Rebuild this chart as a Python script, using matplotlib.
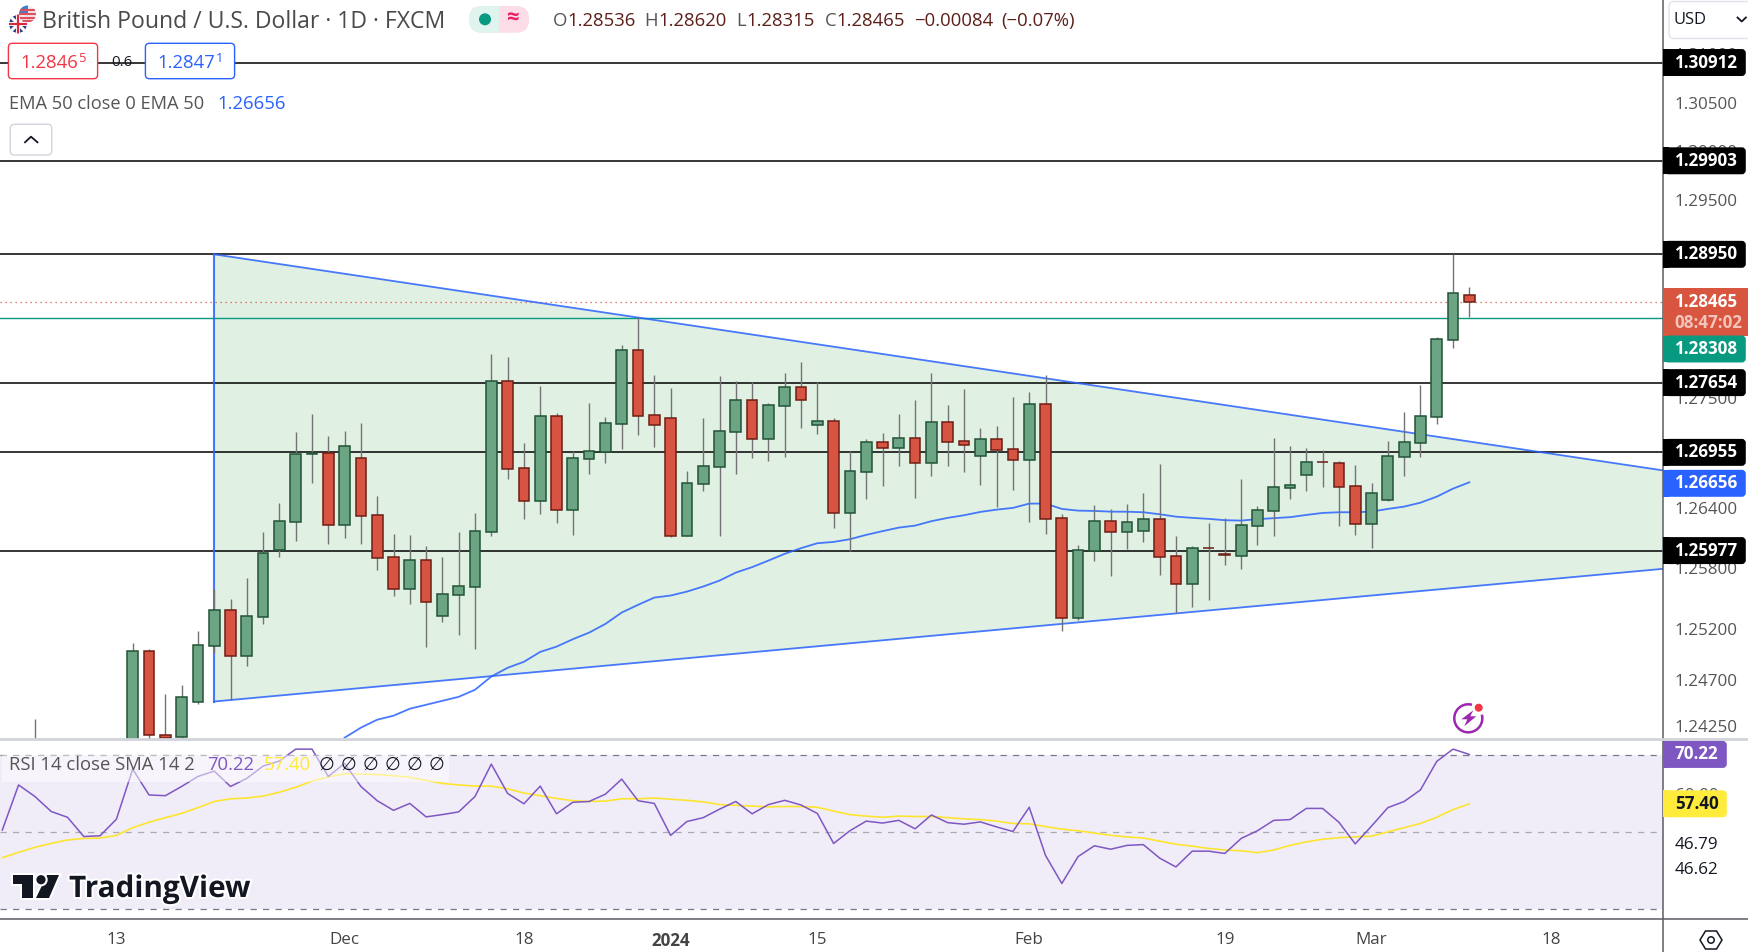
#!/usr/bin/env python3
"""GBP/USD daily chart with EMA, triangle drawing and RSI pane."""

import numpy as np
import matplotlib
matplotlib.use('Agg')
import matplotlib.pyplot as plt
import matplotlib.patheffects as pe
from matplotlib.patches import Rectangle, FancyBboxPatch, Circle, Polygon, Arc

plt.rcParams['font.family'] = ['Open Sans', 'DejaVu Sans']

nan = float('nan')

opens = [1.23900, nan, nan, nan, nan, nan, 1.23850, 1.24983, 1.24157, 1.24142, 1.24480, 1.25039, 1.25388, 1.24940, 1.25325,
         1.25984, 1.26265, 1.26939, 1.26946, 1.26236, 1.26896, 1.26328, 1.25912, 1.25601, 1.25882, 1.25334, 1.25542, 1.25621,
         1.26166, 1.27668, 1.26796, 1.26474, 1.27317, 1.26384, 1.26892, 1.26962, 1.27243, 1.27980, 1.27327, 1.27297, 1.26126,
         1.26642, 1.26812, 1.27162, 1.27477, 1.27092, 1.27423, 1.27607, 1.27233, 1.27267, 1.26354, 1.26762, 1.27056, 1.27002,
         1.27096, 1.26852, 1.27256, 1.27066, 1.26922, 1.27086, 1.26986, 1.26882, 1.27437, 1.26299, 1.25314, 1.25977, 1.26269,
         1.26166, 1.26176, 1.26289, 1.25922, 1.25651, 1.26001, 1.25941, 1.25928, 1.26225, 1.26374, 1.26603, 1.26732, 1.26856,
         1.26846, 1.26617, 1.26245, 1.26483, 1.26912, 1.27052, 1.27313, 1.28087, 1.28536]
highs = [1.24320, nan, nan, nan, nan, nan, 1.25062, 1.25006, 1.24565, 1.24653, 1.25183, 1.25595, 1.25499, 1.25707, 1.26163,
         1.26451, 1.27159, 1.27340, 1.27119, 1.27169, 1.27250, 1.26520, 1.26143, 1.26133, 1.26024, 1.25915, 1.26163, 1.26351,
         1.27943, 1.27913, 1.27049, 1.27621, 1.27350, 1.26966, 1.27450, 1.27310, 1.28033, 1.28316, 1.27731, 1.27600, 1.26769,
         1.27300, 1.27721, 1.27671, 1.27661, 1.27450, 1.27751, 1.27862, 1.27661, 1.27300, 1.26969, 1.27089, 1.27149, 1.27340,
         1.27480, 1.27751, 1.27430, 1.27590, 1.27200, 1.27220, 1.27510, 1.27560, 1.27731, 1.26341, 1.26034, 1.26431, 1.26391,
         1.26441, 1.26550, 1.26839, 1.26123, 1.26024, 1.26252, 1.26302, 1.26690, 1.26421, 1.27099, 1.27019, 1.26999, 1.26979,
         1.26869, 1.26829, 1.26650, 1.27069, 1.27360, 1.27631, 1.28114, 1.28950, 1.28620]
lows = [1.23850, nan, nan, nan, nan, nan, 1.23800, 1.24050, 1.23950, 1.24050, 1.24467, 1.24970, 1.24499, 1.24839, 1.25252,
        1.25915, 1.26073, 1.26649, 1.26043, 1.26103, 1.26043, 1.25786, 1.25529, 1.25450, 1.25026, 1.25272, 1.25144, 1.25006,
        1.26123, 1.26689, 1.26292, 1.26341, 1.26252, 1.26133, 1.26739, 1.26849, 1.26989, 1.27129, 1.27009, 1.26113, 1.26126,
        1.26570, 1.26126, 1.26739, 1.26899, 1.26869, 1.26909, 1.27200, 1.27139, 1.26202, 1.25977, 1.26490, 1.26620, 1.26819,
        1.26500, 1.26719, 1.26819, 1.26759, 1.26630, 1.26411, 1.26580, 1.26262, 1.26143, 1.25183, 1.25292, 1.25875, 1.25727,
        1.25994, 1.26063, 1.25737, 1.25357, 1.25420, 1.25489, 1.25836, 1.25796, 1.26034, 1.26123, 1.26490, 1.26570, 1.26610,
        1.26222, 1.26133, 1.26004, 1.26470, 1.26719, 1.26909, 1.27240, 1.28003, 1.28315]
closes = [1.23950, nan, nan, nan, nan, nan, 1.24983, 1.24157, 1.24135, 1.24532, 1.25042, 1.25388, 1.24940, 1.25329, 1.25951,
          1.26269, 1.26936, 1.26952, 1.26236, 1.27016, 1.26324, 1.25908, 1.25601, 1.25882, 1.25472, 1.25545, 1.25625, 1.26170,
          1.27668, 1.26792, 1.26474, 1.27317, 1.26384, 1.26896, 1.26966, 1.27247, 1.27980, 1.27323, 1.27233, 1.26126, 1.26646,
          1.26816, 1.27166, 1.27477, 1.27092, 1.27427, 1.27607, 1.27483, 1.27267, 1.26354, 1.26766, 1.27056, 1.27002, 1.27096,
          1.26852, 1.27256, 1.27062, 1.27032, 1.27086, 1.26982, 1.26882, 1.27437, 1.26295, 1.25314, 1.25981, 1.26269, 1.26166,
          1.26259, 1.26289, 1.25918, 1.25651, 1.26001, 1.25998, 1.25932, 1.26229, 1.26378, 1.26607, 1.26627, 1.26856, 1.26854,
          1.26613, 1.26245, 1.26547, 1.26916, 1.27056, 1.27317, 1.28090, 1.28555, 1.28465]

ema_start = 19
ema50 = [1.24135, 1.24233, 1.24311, 1.24350, 1.24418, 1.24457, 1.24496, 1.24535, 1.24604, 1.24734, 1.24820, 1.24879, 1.24976,
         1.25028, 1.25101, 1.25166, 1.25252, 1.25364, 1.25440, 1.25512, 1.25532, 1.25571, 1.25621, 1.25680, 1.25759, 1.25813,
         1.25878, 1.25945, 1.26001, 1.26050, 1.26063, 1.26090, 1.26133, 1.26170, 1.26205, 1.26225, 1.26269, 1.26302, 1.26328,
         1.26361, 1.26384, 1.26401, 1.26444, 1.26444, 1.26391, 1.26374, 1.26371, 1.26364, 1.26363, 1.26358, 1.26338, 1.26314,
         1.26302, 1.26292, 1.26279, 1.26275, 1.26289, 1.26299, 1.26309, 1.26331, 1.26351, 1.26358, 1.26358, 1.26364, 1.26391,
         1.26414, 1.26453, 1.26513, 1.26593, 1.26656]

rsi_start = -2
rsi = [50.6, 62.3, 59.3, 55.4, 53.9, 48.9, 49.1, 53.4, 66.4, 59.7, 59.5, 61.9, 64.5, 65.9, 61.9, 64.0, 67.2, 68.5, 71.6, 71.6,
       64.5, 67.9, 61.9, 58.2, 55.7, 57.5, 54.0, 54.6, 55.3, 59.3, 67.7, 60.1, 57.4, 62.0, 54.8, 57.8, 58.0, 59.9, 63.8, 58.2,
       57.5, 49.2, 52.8, 53.8, 56.0, 58.0, 54.8, 57.2, 58.3, 57.1, 54.9, 47.1, 50.4, 52.9, 52.4, 53.1, 50.9, 54.5, 52.5, 52.1,
       52.7, 51.4, 50.2, 56.5, 44.0, 36.7, 43.7, 46.5, 45.6, 46.6, 46.8, 43.3, 41.0, 45.1, 45.1, 44.5, 48.4, 50.4, 53.1, 53.3,
       56.2, 56.2, 52.6, 47.0, 51.6, 56.4, 58.0, 61.0, 68.4, 71.6, 70.22]
rsi_sma = [43.4, 44.8, 46.1, 47.1, 48.0, 48.4, 48.5, 49.2, 51.2, 52.6, 53.8, 54.9, 56.4, 58.0, 58.7, 58.9, 59.4, 60.4, 61.7, 63.3,
           64.4, 65.2, 65.1, 65.0, 64.7, 64.3, 63.5, 62.7, 62.3, 62.0, 62.0, 61.3, 60.2, 59.5, 58.8, 58.2, 58.0, 58.1, 58.7, 58.7,
           58.9, 58.6, 58.3, 57.9, 57.2, 57.0, 56.8, 56.6, 56.7, 56.7, 56.5, 55.5, 54.6, 54.2, 53.9, 54.2, 54.1, 54.1, 53.8, 53.5,
           53.3, 52.9, 52.3, 52.2, 51.5, 50.8, 50.4, 49.8, 49.2, 48.8, 48.5, 47.7, 46.9, 46.4, 45.8, 45.4, 45.2, 44.7, 45.4, 46.6,
           47.5, 48.2, 48.6, 48.8, 49.0, 50.1, 51.2, 52.3, 53.9, 55.9, 57.40]

level_prices = [1.30912, 1.29903, 1.28950, 1.27654, 1.26955, 1.25977]
last_price = 1.28465
bid_price = 1.28308
ema_last = 1.26656

triangle_days = [11, 100, 100, 11]
triangle_prices = [1.28950, 1.26772, 1.25798, 1.24489]

price_ticks = [1.31, 1.305, 1.30, 1.295, 1.275, 1.264, 1.258, 1.252, 1.247, 1.2425]
time_days = [5, 19, 30, 39, 48, 61, 73, 82, 93]
time_labels = ['13', 'Dec', '18', '2024', '15', 'Feb', '19', 'Mar', '18']

W, H = 1749, 952
AXIS_X = 1663.3
PANE_BOTTOM = 738.5
RSI_TOP, RSI_BOTTOM = 740, 919
GREY = '#555555'


def px(size):
    """font size in points from pixels"""
    return size * 0.72


fig = plt.figure(figsize=(W / 100, H / 100), dpi=100)

# price pane
ax = fig.add_axes([0, 1 - PANE_BOTTOM / H, AXIS_X / W, PANE_BOTTOM / H])
ax.set_yscale('log')
ax.set_xlim(-2.141, 99.9)
ax.set_ylim(1.24127, 1.31558)
ax.minorticks_off()
for s in ax.spines.values():
    s.set_visible(False)
ax.set_xticks([])
ax.yaxis.tick_right()
ax.set_yticks(price_ticks)
ax.set_yticklabels([f'{t:.5f}' for t in price_ticks], ha='left')
ax.tick_params(axis='y', which='both', length=0, pad=8.2, labelsize=px(17), labelcolor=GREY)
ax.minorticks_off()

# triangle drawing
ax.add_patch(Polygon(list(zip(triangle_days, triangle_prices)), closed=True, facecolor='#E0F0E2',
                     edgecolor='none', zorder=1))
ax.plot(triangle_days[:2], triangle_prices[:2], color='#2962FF', lw=1.3, alpha=0.85, zorder=2.5)
ax.plot(triangle_days[2:], triangle_prices[2:], color='#2962FF', lw=1.3, alpha=0.85, zorder=2.5)
ax.plot([triangle_days[0], triangle_days[3]], [triangle_prices[0], triangle_prices[3]],
        color='#2962FF', lw=1.5, alpha=0.85, zorder=2.5)

for p in level_prices:
    ax.axhline(p, color='black', lw=1.1, zorder=2)
ax.axhline(last_price, color='#D75442', lw=0.9, ls=(0, (1, 3)), zorder=2)
ax.axhline(bid_price, color='#089981', lw=1.0, zorder=2)

ax.plot(np.arange(ema_start, ema_start + len(ema50)), ema50, color='#2962FF', lw=1.3, alpha=0.85, zorder=3)

# candles
days = np.arange(len(opens))
o, h, l, c = map(np.array, (opens, highs, lows, closes))
up = c >= o
ax.vlines(days, l, h, color='#737375', lw=1.0, zorder=4)
ax.bar(days[up], (c - o)[up], bottom=o[up], width=0.66, color='#6BA583', edgecolor='#225437', lw=1.1, zorder=5)
down = c < o
ax.bar(days[down], (o - c)[down], bottom=c[down], width=0.66, color='#D75442', edgecolor='#6F1E14', lw=1.1, zorder=5)
ax.set_xlim(-2.141, 99.9)
ax.set_ylim(1.24127, 1.31558)

# rsi pane
rx = fig.add_axes([0, 1 - RSI_BOTTOM / H, AXIS_X / W, (RSI_BOTTOM - RSI_TOP) / H])
rx.set_xlim(-2.141, 99.9)
rx.set_ylim(27.48, 73.97)
for s in rx.spines.values():
    s.set_visible(False)
rx.axhspan(30, 70, facecolor='#F0ECF8', edgecolor='none', zorder=1)
rx.axhline(70, color='#787B86', lw=0.9, ls=(0, (5, 5)), zorder=2)
rx.axhline(50, color='#A9ABB3', lw=0.9, ls=(0, (5, 5)), zorder=2)
rx.axhline(30, color='#787B86', lw=0.9, ls=(0, (5, 5)), zorder=2)
rsi_days = np.arange(rsi_start, rsi_start + len(rsi))
rx.plot(rsi_days, rsi_sma, color='#FDE52F', lw=1.2, zorder=3)
rx.plot(rsi_days, rsi, color='#7E57C2', lw=1.1, zorder=4)
rx.set_xticks(time_days)
rx.set_xticklabels(time_labels)
rx.get_xticklabels()[3].set_fontweight('bold')
rx.yaxis.tick_right()
rx.set_yticks([60])
rx.set_yticklabels(['60.00'], ha='left')
rx.tick_params(axis='y', length=0, pad=8.2, labelsize=px(17), labelcolor=GREY)
rx.tick_params(axis='x', length=0, pad=9, labelsize=px(17), labelcolor='#444444')

# overlay in picture pixels for the tradingview furniture
ui = fig.add_axes([0, 0, 1, 1], facecolor='none')
ui.set_xlim(0, W)
ui.set_ylim(H, 0)
ui.axis('off')


def price_y(price):
    return H - ax.transData.transform((0, price))[1]


def rsi_y(value):
    return H - rx.transData.transform((0, value))[1]


def axis_label(y, text, color, right=1746.7, text_color='white', height=26.8):
    box = FancyBboxPatch((AXIS_X + 3, y - height / 2 + 2), right - AXIS_X - 6, height - 4,
                         boxstyle='round,pad=0,rounding_size=2', mutation_aspect=1, facecolor=color,
                         edgecolor=color, lw=3, zorder=5)
    ui.add_patch(box)
    ui.add_patch(Rectangle((AXIS_X, y - height / 2), 6, height, facecolor=color, edgecolor='none', zorder=5))
    ui.text(1675, y, text, color=text_color, fontsize=px(17), va='center', ha='left', weight='bold', zorder=6)


def t(x, y, s, color=GREY, size=18.5, **kw):
    return ui.text(x, y, s, color=color, fontsize=px(size), va='center', ha=kw.pop('ha', 'left'), **kw)


# separators
ui.plot([AXIS_X, AXIS_X], [0, H], color='#5A5C63', lw=1.1)
ui.plot([0, W], [739, 739], color='#D1D4DC', lw=2.0)
ui.plot([0, W], [RSI_BOTTOM, RSI_BOTTOM], color='#5A5C63', lw=1.1)

# right axis labels
ui.add_patch(FancyBboxPatch((1669, 1.5), 90, 37, boxstyle='round,pad=0,rounding_size=5', facecolor='white',
                            edgecolor='#E0E3EB', lw=1))
t(1673.5, 20.5, 'USD', color='#131722', size=16.5)
ui.plot([1737.5, 1741.7, 1745.9], [17.5, 21.5, 17.5], color='#131722', lw=1.3)

for p in level_prices:
    axis_label(price_y(p), f'{p:.5f}', 'black')
axis_label(price_y(ema_last) + 1, f'{ema_last:.5f}', '#2962FF')

ui.add_patch(Rectangle((AXIS_X, 288), W - AXIS_X, 47.7, facecolor='#D8563F', edgecolor='none', zorder=5))
ui.text(1675, 301.7, f'{last_price:.5f}', color='white', fontsize=px(17), weight='bold', va='center', zorder=6)
ui.text(1674.5, 322.7, '08:47:02', color='#F5C4BC', fontsize=px(17), weight='bold', va='center', zorder=6)
axis_label(349, f'{bid_price:.5f}', '#089981')

axis_label(rsi_y(rsi[-1]), f'{rsi[-1]:.2f}', '#7E57C2', right=1727.7)
axis_label(rsi_y(rsi_sma[-1]), f'{rsi_sma[-1]:.2f}', '#FFEB3B', right=1727.7, text_color='#131722')
t(1675, 845, '46.79', color='#131722', size=17)
t(1675, 870, '46.62', color='#131722', size=17)

# gear
ui.add_patch(Polygon([(1700, 940), (1705.5, 931), (1716.5, 931), (1722, 940), (1716.5, 949), (1705.5, 949)],
                     closed=True, facecolor='white', edgecolor='#131722', lw=1.1))
ui.add_patch(Circle((1711, 940), 3.2, facecolor='white', edgecolor='#131722', lw=1.1))

# lightning badge
ui.add_patch(Arc((1468.3, 718.3), 28, 28, theta1=-15, theta2=285, color='#9C27B0', lw=1.8))
ui.add_patch(Polygon([(1473.3, 710.3), (1461.3, 719.3), (1467.3, 719.3), (1464.3, 726.3), (1476.3, 716.3),
                      (1470.3, 716.3)], closed=True, facecolor='#9C27B0', edgecolor='none'))
ui.add_patch(Circle((1478.7, 707.7), 4, facecolor='#F23645', edgecolor='none'))

# header, flags
uk = Circle((18, 24), 9.5, facecolor='#1F3B7A', edgecolor='none')
ui.add_patch(uk)
for xs, ys, col, lw in [([9, 27], [15, 33], 'white', 2.2), ([9, 27], [33, 15], 'white', 2.2),
                        ([9, 27], [24, 24], 'white', 3.0), ([18, 18], [14, 34], 'white', 3.0),
                        ([9, 27], [24, 24], '#D8283C', 1.6), ([18, 18], [14, 34], '#D8283C', 1.6)]:
    line, = ui.plot(xs, ys, color=col, lw=lw, solid_capstyle='butt')
    line.set_clip_path(uk)
us = Circle((27.5, 14), 8.5, facecolor='#F0F0F4', edgecolor='none')
ui.add_patch(us)
for yy in (9.5, 13.5, 17.5, 21):
    line, = ui.plot([18, 36], [yy, yy], color='#E0505A', lw=1.6, solid_capstyle='butt')
    line.set_clip_path(us)
canton = Rectangle((18, 5), 10, 9, facecolor='#3F7FD0', edgecolor='none')
ui.add_patch(canton)
canton.set_clip_path(us)
uk2 = Circle((18, 24), 9.5, facecolor='none', edgecolor='white', lw=0.8)
ui.add_patch(uk2)

t(42, 21.5, 'British Pound / U.S. Dollar · 1D · FXCM', color='#4A4A4A', size=23)

# market status pill
ui.add_patch(FancyBboxPatch((469, 6), 60, 26.7, boxstyle='round,pad=0,rounding_size=13', facecolor='#FBDCE7',
                            edgecolor='none', zorder=2, mutation_aspect=1))
left_half = FancyBboxPatch((469, 6), 60, 26.7, boxstyle='round,pad=0,rounding_size=13', facecolor='#DFF3EF',
                           edgecolor='none', zorder=3)
ui.add_patch(left_half)
left_half.set_clip_path(Rectangle((469, 0), 29.7, 40, transform=ui.transData))
ui.add_patch(Circle((485, 19.3), 6, facecolor='#089981', edgecolor='none', zorder=4))
t(512, 18.5, '≈', color='#E91E63', size=22, ha='center', weight='bold', zorder=4)

# ohlc row
dark_red = '#5C1F1A'
for x, letter, val in [(553, 'O', '1.28536'), (644.5, 'H', '1.28620'), (736, 'L', '1.28315'), (824.5, 'C', '1.28465')]:
    t(x, 21, letter, color=GREY)
    t(x + {'O': 14, 'H': 14, 'L': 10, 'C': 12}[letter], 21, val, color=dark_red)
t(914.5, 21, '−0.00084', color=dark_red)
t(1001, 21, '(−0.07%)', color=dark_red)

# buy and sell boxes
ui.add_patch(FancyBboxPatch((8.4, 43.3), 89.2, 35.4, boxstyle='round,pad=0,rounding_size=4', facecolor='white',
                            edgecolor='#F23645', lw=1))
t(20, 62.5, '1.2846', color='#F23645')
t(78, 59, '5', color='#F23645', size=13)
t(121.7, 62.5, '0.6', color='#131722', size=15, ha='center')
ui.add_patch(FancyBboxPatch((145.4, 43.3), 89.2, 35.4, boxstyle='round,pad=0,rounding_size=4', facecolor='white',
                            edgecolor='#2962FF', lw=1))
t(157.5, 62.5, '1.2847', color='#2962FF')
t(216, 59, '1', color='#2962FF', size=13)

t(9, 104.3, 'EMA 50 close 0 EMA 50', size=18.3)
t(217, 104.3, f'{ema_last:.5f}', color='#2962FF')

ui.add_patch(FancyBboxPatch((10.3, 124.3), 41.4, 30.7, boxstyle='round,pad=0,rounding_size=4', facecolor='white',
                            edgecolor='#D1D4DC', lw=1))
ui.plot([25, 31, 37.5], [142.3, 136.7, 142.3], color='#131722', lw=1.3)

# rsi legend
ui.add_patch(Rectangle((2, 755), 447, 26.7, facecolor='white', alpha=0.5, edgecolor='none'))
t(9, 765, 'RSI 14 close SMA 14 2')
t(207, 765, f'{rsi[-1]:.2f}', color='#7E57C2')
t(264, 765, f'{rsi_sma[-1]:.2f}', color='#FFE93B')
for x in (326.5, 348.5, 370.4, 392.3, 414.3, 436.2):
    t(x, 765, '∅', color='#131722', size=18, ha='center')

# logo
halo = [pe.withStroke(linewidth=3, foreground='white')]
logo = [Polygon([(13, 875), (33, 875), (33, 898), (22, 898), (22, 884), (13, 884)], closed=True),
        Polygon([(47, 875), (59, 875), (49, 898), (36, 898)], closed=True),
        Circle((41, 879.7), 4.6)]
for shape in logo:
    shape.set(facecolor='#131722', edgecolor='none', path_effects=halo)
    ui.add_patch(shape)
t(69, 889, 'TradingView', color='#131722', size=29.7, weight='bold', path_effects=halo)

plt.savefig('out.png', dpi=100)
plt.close()
